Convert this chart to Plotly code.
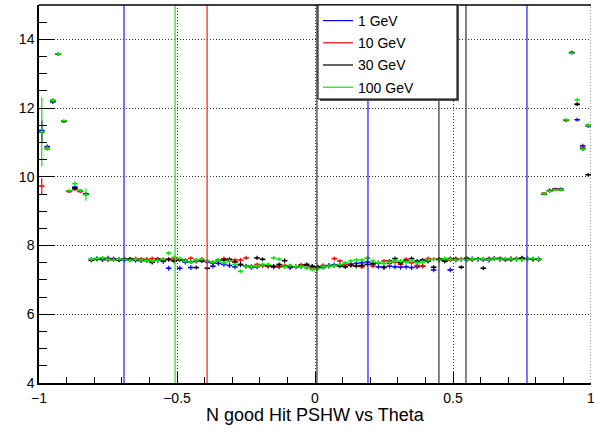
import numpy as np
import plotly.graph_objects as go

# Bin centres of the theta histogram (100 bins of width 0.02 from -1 to 1)
theta = np.round(np.arange(-0.99, 1.0, 0.02), 2)
half_bin = 0.01

# Edge bins (left: -0.99..-0.83, right: 0.83..0.99)
blue_left  = [11.35, 10.88, 12.18, 13.58, 11.62, 9.58, 9.70, 9.59, 9.50]
red_left   = [9.73, 10.84, 12.23, 13.57, 11.62, 9.57, 9.63, 9.57, 9.50]
black_left = [11.30, 10.82, 12.20, 13.57, 11.61, 9.59, 9.67, 9.60, 9.49]
green_left = [11.31, 10.83, 12.22, 13.58, 11.63, 9.59, 9.80, 9.60, 9.48]

blue_right  = [9.51, 9.60, 9.64, 9.65, 11.64, 13.62, 11.66, 10.90, 11.48]
red_right   = [9.52, 9.58, 9.64, 9.62, 11.65, 13.60, 12.11, 10.84, 11.50]
black_right = [9.50, 9.59, 9.63, 9.63, 11.66, 13.61, 12.11, 10.80, 10.06]
green_right = [9.51, 9.58, 9.62, 9.63, 11.66, 13.60, 12.24, 10.80, 11.50]

# Central bins -0.81 .. 0.81
blue_mid = [7.60, 7.62, 7.59, 7.63, 7.61, 7.60, 7.58, 7.59, 7.57, 7.56,
            7.58, 7.55, 7.57, 7.54, 7.34, 7.55, 7.34, 7.52, 7.36, 7.55,
            7.58, 7.52, 7.40, 7.48, 7.45, 7.42, 7.38, 7.44, 7.40, 7.36,
            7.38, 7.42, 7.40, 7.37, 7.38, 7.40, 7.36, 7.38, 7.39, 7.42,
            7.38, 7.36, 7.40, 7.42, 7.44, 7.43, 7.45, 7.46, 7.48, 7.50,
            7.52, 7.46, 7.38, 7.36, 7.40, 7.38, 7.37, 7.38, 7.36, 7.38,
            7.40, 7.55, 7.29, 7.58, 7.55, 7.29, 7.58, 7.60, 7.59, 7.61,
            7.60, 7.59, 7.58, 7.62, 7.60, 7.59, 7.61, 7.60, 7.62, 7.61, 7.60, 7.61]
red_mid = [7.58, 7.60, 7.62, 7.60, 7.59, 7.58, 7.61, 7.60, 7.62, 7.61,
           7.60, 7.62, 7.61, 7.60, 7.59, 7.62, 7.60, 7.58, 7.63, 7.57,
           7.60, 7.55, 7.50, 7.58, 7.62, 7.55, 7.58, 7.58, 7.64, 7.40,
           7.45, 7.42, 7.40, 7.38, 7.40, 7.42, 7.40, 7.38, 7.44, 7.36,
           7.35, 7.38, 7.42, 7.40, 7.62, 7.55, 7.44, 7.43, 7.40, 7.38,
           7.63, 7.40, 7.50, 7.55, 7.48, 7.52, 7.45, 7.60, 7.50, 7.42,
           7.40, 7.62, 7.60, 7.61, 7.60, 7.58, 7.62, 7.60, 7.63, 7.59,
           7.61, 7.60, 7.62, 7.61, 7.63, 7.60, 7.62, 7.61, 7.60, 7.62, 7.61, 7.60]
black_mid = [7.57, 7.60, 7.62, 7.59, 7.60, 7.58, 7.60, 7.61, 7.59, 7.58,
             7.56, 7.51, 7.60, 7.58, 7.60, 7.56, 7.58, 7.55, 7.52, 7.36,
             7.55, 7.34, 7.50, 7.56, 7.58, 7.60, 7.52, 7.45, 7.40, 7.38,
             7.64, 7.60, 7.42, 7.40, 7.45, 7.56, 7.40, 7.38, 7.42, 7.45,
             7.40, 7.38, 7.36, 7.40, 7.42, 7.40, 7.38, 7.42, 7.40, 7.42,
             7.45, 7.48, 7.50, 7.37, 7.55, 7.62, 7.50, 7.55, 7.62, 7.55,
             7.58, 7.55, 7.37, 7.60, 7.55, 7.62, 7.60, 7.37, 7.62, 7.60,
             7.61, 7.34, 7.60, 7.62, 7.61, 7.60, 7.59, 7.62, 7.64, 7.61, 7.60, 7.59]
green_mid = [7.60, 7.62, 7.64, 7.60, 7.58, 7.60, 7.59, 7.57, 7.60, 7.58,
             7.56, 7.55, 7.57, 7.60, 7.78, 7.66, 7.62, 7.55, 7.52, 7.58,
             7.60, 7.55, 7.52, 7.58, 7.50, 7.55, 7.45, 7.25, 7.40, 7.38,
             7.40, 7.45, 7.45, 7.64, 7.60, 7.38, 7.42, 7.38, 7.40, 7.35,
             7.30, 7.33, 7.38, 7.40, 7.42, 7.45, 7.50, 7.55, 7.58, 7.58,
             7.63, 7.55, 7.50, 7.48, 7.52, 7.55, 7.55, 7.52, 7.55, 7.50,
             7.52, 7.58, 7.60, 7.58, 7.62, 7.60, 7.58, 7.60, 7.59, 7.61,
             7.60, 7.62, 7.59, 7.61, 7.60, 7.62, 7.61, 7.60, 7.59, 7.61, 7.62, 7.60]

# Errors: edge bins explicit, central bins one value per series
blue_err_left  = [0.30, 0.06, 0.06, 0.04, 0.04, 0.04, 0.05, 0.04, 0.05]
red_err_left   = [0.23, 0.05, 0.05, 0.04, 0.04, 0.04, 0.04, 0.04, 0.05]
black_err_left = [0.30, 0.05, 0.05, 0.04, 0.04, 0.04, 0.04, 0.04, 0.05]
green_err_left = [1.00, 0.06, 0.06, 0.04, 0.04, 0.04, 0.07, 0.04, 0.18]
blue_err_right  = [0.04, 0.06, 0.04, 0.04, 0.04, 0.05, 0.06, 0.06, 0.06]
red_err_right   = [0.04, 0.04, 0.04, 0.04, 0.04, 0.04, 0.05, 0.05, 0.05]
black_err_right = [0.04, 0.04, 0.04, 0.04, 0.04, 0.04, 0.05, 0.05, 0.05]
green_err_right = [0.04, 0.04, 0.04, 0.04, 0.04, 0.04, 0.06, 0.05, 0.05]
mid_err = {"1 GeV": 0.07, "10 GeV": 0.06, "30 GeV": 0.06, "100 GeV": 0.06}

series = [
    ("1 GeV", "#0000ff", blue_left + blue_mid + blue_right, blue_err_left, blue_err_right),
    ("10 GeV", "#ff0000", red_left + red_mid + red_right, red_err_left, red_err_right),
    ("30 GeV", "#000000", black_left + black_mid + black_right, black_err_left, black_err_right),
    ("100 GeV", "#00ee00", green_left + green_mid + green_right, green_err_left, green_err_right),
]

# Vertical marker lines (theta positions) per energy
vlines = {
    "1 GeV": [-0.692, 0.192, 0.768],
    "10 GeV": [-0.391],
    "30 GeV": [0.007, 0.449, 0.547],
    "100 GeV": [-0.507],
}

FONT = "Liberation Sans, Arial, Helvetica, sans-serif"

fig = go.Figure()
for name, color, vals, el, er in series:
    n_mid = len(vals) - len(el) - len(er)
    errs = el + [mid_err[name]] * n_mid + er
    fig.add_trace(go.Scatter(
        x=theta, y=vals, mode="markers",
        marker=dict(size=0, color=color, opacity=0),
        error_x=dict(type="constant", value=half_bin, color=color, thickness=1.6, width=0),
        error_y=dict(type="data", array=errs, color=color, thickness=1.2, width=0),
        showlegend=False, hoverinfo="skip",
    ))

for name, color, *_ in series:
    fig.add_trace(go.Scatter(
        x=[None], y=[None], mode="lines", name=name,
        line=dict(color=color, width=1.2), legendgroup=name,
    ))

shapes = []
line_colors = {"1 GeV": "#1a1aff", "10 GeV": "#ff1a1a", "30 GeV": "#333333", "100 GeV": "#22dd22"}
for name, xs in vlines.items():
    for xv in xs:
        shapes.append(dict(type="line", xref="x", yref="paper", x0=xv, x1=xv, y0=0, y1=1,
                           line=dict(color=line_colors[name], width=1.2), layer="above"))
# top frame line and dotted grid line at the right edge (x = 1)
shapes.append(dict(type="line", xref="paper", yref="paper", x0=0, x1=1, y0=1, y1=1,
                   line=dict(color="black", width=1.5), layer="above"))
shapes.append(dict(type="line", xref="x", yref="paper", x0=1, x1=1, y0=0, y1=1,
                   line=dict(color="#333", width=1, dash="1px,2px"), layer="below"))
# legend frame (ROOT-style box with drop shadow), legend text drawn on top
plot_w, plot_h = 552.0, 378.0
lx0, lx1 = (318 - 39) / plot_w, (457 - 39) / plot_w
ly1, ly0 = 1.0, 1.0 - (99 - 5) / plot_h
shapes.append(dict(type="rect", xref="paper", yref="paper",
                   x0=lx0 + 2 / plot_w, x1=lx1 + 2 / plot_w, y0=ly0 - 2 / plot_h, y1=ly1,
                   fillcolor="#555", line=dict(width=0), layer="above"))
shapes.append(dict(type="rect", xref="paper", yref="paper", x0=lx0, x1=lx1, y0=ly0, y1=ly1,
                   fillcolor="white", line=dict(color="black", width=1), layer="above"))

fig.update_layout(
    width=594, height=432,
    margin=dict(l=39, r=3, t=5, b=49, autoexpand=False),
    paper_bgcolor="white", plot_bgcolor="white",
    font=dict(family=FONT, size=14, color="black"),
    shapes=shapes,
    showlegend=True,
    legend=dict(x=lx0, y=1.0, xanchor="left", yanchor="top",
                bgcolor="rgba(0,0,0,0)", borderwidth=0,
                font=dict(family=FONT, size=14), tracegroupgap=1,
                itemwidth=30),
    annotations=[dict(text="N good Hit PSHW vs Theta", xref="paper", yref="paper",
                      x=0.5, y=-0.085, xanchor="center", yanchor="middle",
                      showarrow=False, font=dict(family=FONT, size=18, color="black"))],
)

fig.update_xaxes(
    range=[-1, 1], tickvals=[-1, -0.5, 0, 0.5, 1], ticktext=["\u22121", "\u22120.5", "0", "0.5", "1"],
    ticks="inside", ticklen=11, tickwidth=1, tickcolor="black", automargin=False,
    ticklabeloverflow="allow", ticklabelstandoff=1,
    showline=True, linecolor="black", linewidth=1.5,
    showgrid=True, gridcolor="#333", griddash="1px,2px", gridwidth=1,
    zeroline=False,
    minor=dict(dtick=0.1, tick0=0, ticks="inside", ticklen=6, tickcolor="black", showgrid=False),
)
fig.update_yaxes(
    range=[4, 15], tickvals=[4, 6, 8, 10, 12, 14], automargin=False,
    ticks="inside", ticklen=16, tickwidth=1, tickcolor="black",
    showline=True, linecolor="black", linewidth=1.5,
    showgrid=True, gridcolor="#333", griddash="1px,2px", gridwidth=1,
    zeroline=False,
    minor=dict(dtick=0.5, tick0=0, ticks="inside", ticklen=8, tickcolor="black", showgrid=False),
)

fig.write_html("out.html")
